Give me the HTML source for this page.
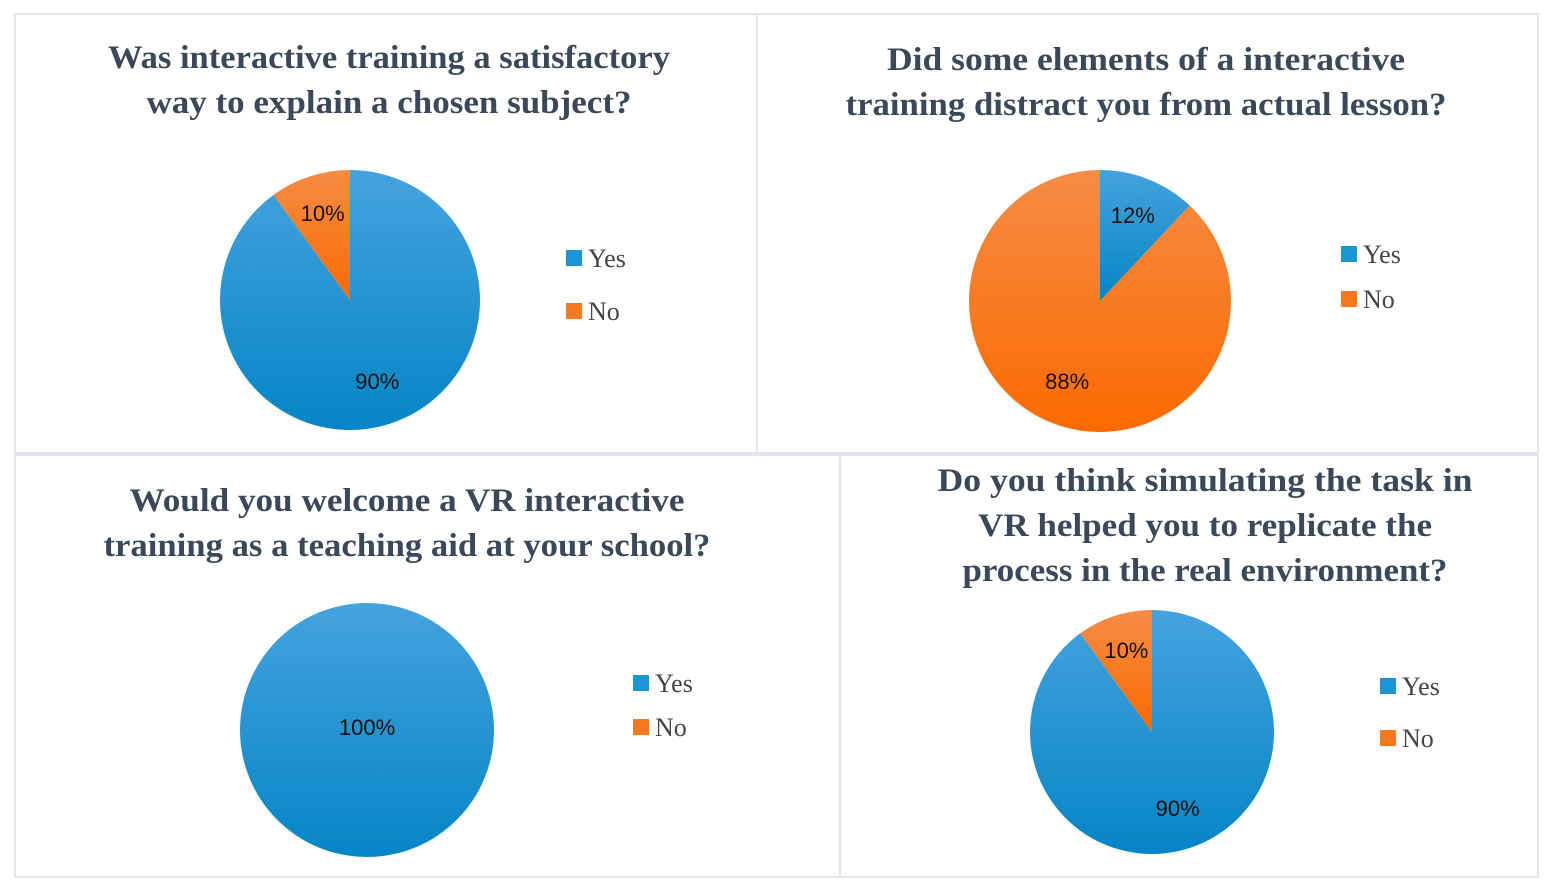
<!DOCTYPE html>
<html><head><meta charset="utf-8"><style>
html,body{margin:0;padding:0;background:#fff;}
svg{display:block;}
.title{font-family:"Liberation Serif",serif;font-weight:bold;font-size:33px;fill:#3b4859;text-anchor:middle;}
.lbl{font-family:"Liberation Sans",sans-serif;font-size:22px;fill:#111;text-anchor:middle;}
.leg{font-family:"Liberation Serif",serif;font-size:26px;fill:#444;}
</style></head><body>
<svg id="chart" width="1552" height="892" viewBox="0 0 1552 892">
<defs>
<linearGradient id="gBlue" x1="0" y1="0" x2="0" y2="1"><stop offset="0" stop-color="#45a3dd"/><stop offset="1" stop-color="#0585c6"/></linearGradient>
<linearGradient id="gOrange" x1="0" y1="0" x2="0" y2="1"><stop offset="0" stop-color="#f68c45"/><stop offset="1" stop-color="#fb6a00"/></linearGradient>
</defs>
<rect x="15" y="14" width="742" height="439" fill="none" stroke="#e2e6ea" stroke-width="2"/>
<rect x="757" y="14" width="781" height="439" fill="none" stroke="#e2e6ea" stroke-width="2"/>
<rect x="15" y="455" width="825" height="422" fill="none" stroke="#e2e6ea" stroke-width="2"/>
<rect x="840" y="455" width="698" height="422" fill="none" stroke="#e2e6ea" stroke-width="2"/>
<g id="marks"></g>
</svg>
<script>
const categories = ["Yes", "No"];
const q1Values = [90, 10];
const q2Values = [12, 88];
const q3Values = [100, 0];
const q4Values = [90, 10];
const titles = [
 ["Was interactive training a satisfactory","way to explain a chosen subject?"],
 ["Did some elements of a interactive","training distract you from actual lesson?"],
 ["Would you welcome a VR interactive","training as a teaching aid at your school?"],
 ["Do you think simulating the task in","VR helped you to replicate the","process in the real environment?"]
];
const layouts = [
 {vals:q1Values,cx:350,cy:300,r:130,tx:389,ty:[68,113],tw:[562,485],lx:566,ly:[258,311]},
 {vals:q2Values,cx:1100,cy:301,r:131,tx:1146,ty:[70,115],tw:[518,601],lx:1341,ly:[254,299]},
 {vals:q3Values,cx:367,cy:730,r:127,tx:407,ty:[511,556],tw:[555,607],lx:633,ly:[683,727]},
 {vals:q4Values,cx:1152,cy:732,r:122,tx:1205,ty:[491,536,581],tw:[535,454,485],lx:1380,ly:[686,738]}
];
const fills=["url(#gBlue)","url(#gOrange)"];
const legCol=["#1c95d6","#f7791d"];
const NS="http://www.w3.org/2000/svg";
const g=document.getElementById("marks");
function mk(t,a){const e=document.createElementNS(NS,t);for(const k in a)e.setAttribute(k,a[k]);g.appendChild(e);return e;}
function pt(cx,cy,r,frac){const a=frac*2*Math.PI;return [cx+r*Math.sin(a),cy-r*Math.cos(a)];}
layouts.forEach((L,i)=>{
 titles[i].forEach((line,j)=>{
  const t=mk("text",{class:"title",x:L.tx,y:L.ty[j],textLength:L.tw[j],lengthAdjust:"spacingAndGlyphs"});t.textContent=line;
  
  
 });
 const total=L.vals.reduce((a,b)=>a+b,0);
 let acc=0;
 L.vals.forEach((v,k)=>{
  if(v<=0)return;
  const f0=acc/total,f1=(acc+v)/total;acc+=v;
  let el;
  if(f1-f0>=0.9999){el=mk("circle",{cx:L.cx,cy:L.cy,r:L.r,fill:fills[k]});}
  else{
   const p0=pt(L.cx,L.cy,L.r,f0),p1=pt(L.cx,L.cy,L.r,f1);
   el=mk("path",{d:`M${L.cx},${L.cy}L${p0[0]},${p0[1]}A${L.r},${L.r} 0 ${f1-f0>0.5?1:0} 1 ${p1[0]},${p1[1]}Z`,fill:fills[k]});
  }
  
  
  const mid=(f0+f1)/2;
  const rr=(f1-f0)>=0.9999?0:L.r*0.68;
  const lp=pt(L.cx,L.cy,rr,mid);
  const t=mk("text",{class:"lbl",x:lp[0],y:lp[1]+5});t.textContent=v+"%";
  
  
 });
 categories.forEach((c,k)=>{
  const s=mk("rect",{x:L.lx,y:L.ly[k]-8,width:16,height:16,fill:legCol[k]});
  
  
  const t=mk("text",{class:"leg",x:L.lx+22,y:L.ly[k]+9});t.textContent=c;
  
  
 });
});
</script>
</body></html>
